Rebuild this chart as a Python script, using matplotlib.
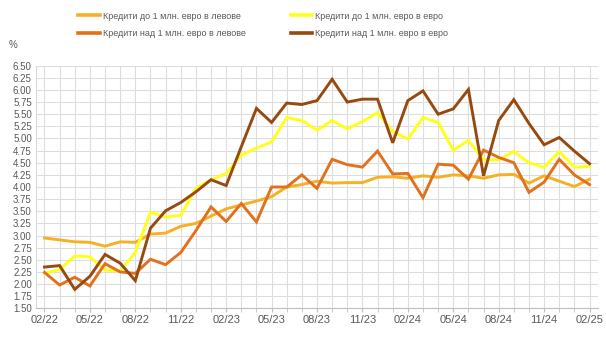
import matplotlib.pyplot as plt
from matplotlib.ticker import MultipleLocator, FormatStrFormatter

plt.rcParams['font.family'] = ['Liberation Sans', 'DejaVu Sans']

# months 02/22 .. 02/25
months = [f"{m:02d}/{y:02d}" for y in (22, 23, 24, 25) for m in range(1, 13)][1:38]

labels = ['Кредити до 1 млн. евро в левове', 'Кредити до 1 млн. евро в евро',
          'Кредити над 1 млн. евро в левове', 'Кредити над 1 млн. евро в евро']
colors = ['#F5B024', '#FFFF1A', '#E2711D', '#974A10']

small_bgn = [2.95, 2.91, 2.87, 2.86, 2.78, 2.87, 2.86, 3.03, 3.05, 3.19, 3.25, 3.40,
             3.55, 3.63, 3.71, 3.80, 4.00, 4.05, 4.12, 4.08, 4.09, 4.09, 4.20, 4.21,
             4.18, 4.23, 4.20, 4.25, 4.23, 4.18, 4.25, 4.26, 4.08, 4.23, 4.12, 4.01,
             4.16]
small_eur = [2.22, 2.30, 2.58, 2.56, 2.29, 2.27, 2.65, 3.48, 3.38, 3.42, 3.97, 4.15,
             4.28, 4.66, 4.80, 4.93, 5.43, 5.37, 5.17, 5.37, 5.20, 5.35, 5.53, 5.14,
             4.99, 5.43, 5.33, 4.76, 4.96, 4.56, 4.56, 4.73, 4.50, 4.41, 4.73, 4.41,
             4.42]
large_bgn = [2.24, 1.98, 2.14, 1.96, 2.42, 2.25, 2.22, 2.51, 2.40, 2.65, 3.10, 3.59,
             3.29, 3.66, 3.28, 4.00, 4.00, 4.25, 3.97, 4.57, 4.46, 4.41, 4.74, 4.27,
             4.28, 3.78, 4.47, 4.45, 4.16, 4.76, 4.61, 4.50, 3.89, 4.10, 4.57, 4.25,
             4.05]
large_eur = [2.35, 2.38, 1.89, 2.16, 2.61, 2.43, 2.07, 3.15, 3.51, 3.68, 3.90, 4.15,
             4.03, 4.83, 5.62, 5.33, 5.73, 5.70, 5.78, 6.22, 5.75, 5.81, 5.81, 4.91,
             5.78, 5.98, 5.50, 5.61, 6.01, 4.23, 5.37, 5.80, 5.31, 4.87, 5.02, 4.74,
             4.48]

fig = plt.figure(figsize=(6.06, 3.40), dpi=100)
ax = fig.add_axes([0.0594, 0.0932, 0.9274, 0.7136])

x = list(range(len(months)))
lines = []
for vals, c, lab in zip([small_bgn, small_eur, large_bgn, large_eur], colors, labels):
    ln, = ax.plot(x, vals, color=c, lw=2.1, label=lab, solid_joinstyle='miter')
    lines.append(ln)

ax.set_xlim(-0.56, 36.56)
ax.set_ylim(1.5, 6.5)
ax.yaxis.set_major_locator(MultipleLocator(0.25))
ax.yaxis.set_major_formatter(FormatStrFormatter('%.2f'))
ax.set_xticks(x[::3])
ax.set_xticklabels(months[::3])
ax.set_xticks(x, minor=True)

ax.grid(True, which='both', color='#DDDDDD', lw=0.8)
ax.set_axisbelow(True)
for s in ('top', 'right'):
    ax.spines[s].set_visible(False)
ax.spines['left'].set_color('#D0D8E0')
ax.spines['bottom'].set_color('#BFBFBF')
ax.tick_params(axis='y', length=0, labelsize=7, labelcolor='#595959', pad=3)
ax.tick_params(axis='x', which='both', length=3, color='#BFBFBF',
               labelsize=8, labelcolor='#595959', pad=2)

fig.text(0.015, 0.86, '%', fontsize=7, color='#595959')

order = [0, 2, 1, 3]
leg = fig.legend([lines[i] for i in order], [labels[i] for i in order],
                 loc='upper left', bbox_to_anchor=(0.1155, 0.99), ncol=2,
                 frameon=False, fontsize=6.5, handlelength=2.4, handletextpad=0.33,
                 columnspacing=5.0, labelspacing=0.92)
for t in leg.get_texts():
    t.set_color('#595959')
for h in leg.get_lines():
    h.set_linewidth(2.6)

fig.savefig('out.png', dpi=100)
